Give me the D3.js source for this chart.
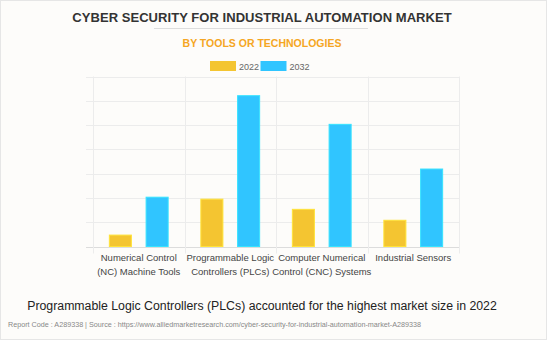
<!DOCTYPE html>
<html>
<head>
<meta charset="utf-8">
<script src="https://cdn.jsdelivr.net/npm/d3@7"></script>
<style>
  html, body { margin: 0; padding: 0; background: #fdfcfa; }
  svg { display: block; font-family: Arial, "Liberation Sans", sans-serif; }
</style>
</head>
<body>
<svg id="chart" width="547" height="340"></svg>
<script>
// data
const categories = [
  ["Numerical Control", "(NC) Machine Tools"],
  ["Programmable Logic", "Controllers (PLCs)"],
  ["Computer Numerical", "Control (CNC) Systems"],
  ["Industrial Sensors"]
];
const seriesNames = ["2022", "2032"];
const values2022 = [0.47, 1.95, 1.53, 1.08];
const values2032 = [2.03, 6.21, 5.03, 3.19];
const yTicks = [0, 1, 2, 3, 4, 5, 6, 7];
const colors = ["#f4c531", "#30c5ff"];

const svg = d3.select("#chart");
const W = 547, H = 340;

// outer frame
svg.append("rect")
  .attr("x", 0.5).attr("y", 0.5)
  .attr("width", W - 1).attr("height", H - 1)
  .attr("fill", "#fdfcfa").attr("stroke", "#e6e6e6");

// titles
svg.append("text")
  .attr("x", 262).attr("y", 22)
  .attr("text-anchor", "middle")
  .attr("font-size", 13).attr("font-weight", "bold")
  .attr("letter-spacing", 0.05)
  .attr("fill", "#333")
  .text("CYBER SECURITY FOR INDUSTRIAL AUTOMATION MARKET");

svg.append("line")
  .attr("x1", 154).attr("x2", 368)
  .attr("y1", 28.5).attr("y2", 28.5)
  .attr("stroke", "#dddddd");

svg.append("text")
  .attr("x", 262).attr("y", 47)
  .attr("text-anchor", "middle")
  .attr("font-size", 10.5).attr("font-weight", "bold")
  .attr("fill", "#f5a623")
  .text("BY TOOLS OR TECHNOLOGIES");

// legend
const legend = svg.append("g");
const legendX = [210, 260.5];
seriesNames.forEach((s, i) => {
  legend.append("rect")
    .attr("x", legendX[i]).attr("y", 61)
    .attr("width", 26).attr("height", 10)
    .attr("fill", colors[i]);
  legend.append("text")
    .attr("x", legendX[i] + 29).attr("y", 69.5)
    .attr("font-size", 9).attr("fill", "#666")
    .text(s);
});

// plot
const plot = { left: 93, right: 459, top: 76.5, bottom: 246.5 };

const x0 = d3.scaleBand()
  .domain(d3.range(categories.length))
  .range([plot.left, plot.right])
  .padding(0);

const x1 = d3.scaleBand()
  .domain(seriesNames)
  .range([0, x0.bandwidth()])
  .paddingInner(0.4)
  .paddingOuter(0.445);

const y = d3.scaleLinear()
  .domain([0, 7])
  .range([plot.bottom, plot.top]);

// horizontal grid
svg.append("g").selectAll("line")
  .data(yTicks)
  .join("line")
  .attr("x1", plot.left - 7).attr("x2", plot.right)
  .attr("y1", d => Math.round(y(d)) + 0.5)
  .attr("y2", d => Math.round(y(d)) + 0.5)
  .attr("stroke", d => d === 0 ? "#dcdcdc" : "#ececec");

// vertical grid
const vLines = d3.range(categories.length + 1).map(i =>
  i < categories.length ? x0(i) : plot.right);
svg.append("g").selectAll("line")
  .data(vLines)
  .join("line")
  .attr("x1", d => Math.round(d) + 0.5).attr("x2", d => Math.round(d) + 0.5)
  .attr("y1", plot.top).attr("y2", plot.bottom + 7)
  .attr("stroke", "#ececec");

// bars
const series = [values2022, values2032];
const groups = svg.append("g").selectAll("g")
  .data(categories.map((c, i) => i))
  .join("g")
  .attr("transform", i => `translate(${x0(i)},0)`);

groups.selectAll("rect")
  .data(i => seriesNames.map((s, k) => ({ s, k, v: series[k][i] })))
  .join("rect")
  .attr("x", d => x1(d.s))
  .attr("width", x1.bandwidth())
  .attr("y", d => y(d.v))
  .attr("height", d => y(0) - y(d.v))
  .attr("fill", d => colors[d.k])
  .attr("stroke", d => d3.color(colors[d.k]).brighter(0.4))
  .attr("stroke-width", 1);

// category labels
const labels = svg.append("g").selectAll("text")
  .data(categories)
  .join("text")
  .attr("x", (d, i) => x0(i) + x0.bandwidth() / 2)
  .attr("y", 261)
  .attr("text-anchor", "middle")
  .attr("font-size", 9.5)
  .attr("fill", "#444");

labels.selectAll("tspan")
  .data(d => d)
  .join("tspan")
  .attr("x", function () { return d3.select(this.parentNode).attr("x"); })
  .attr("dy", (d, i) => i === 0 ? 0 : 14.4)
  .text(d => d);

// footer
svg.append("text")
  .attr("x", 262).attr("y", 310)
  .attr("text-anchor", "middle")
  .attr("font-size", 12.3)
  .attr("fill", "#222")
  .text("Programmable Logic Controllers (PLCs) accounted for the highest market size in 2022");

svg.append("text")
  .attr("x", 8).attr("y", 327)
  .attr("font-size", 7.2)
  .attr("fill", "#888")
  .text("Report Code : A289338  |  Source : https://www.alliedmarketresearch.com/cyber-security-for-industrial-automation-market-A289338");
</script>
</body>
</html>
